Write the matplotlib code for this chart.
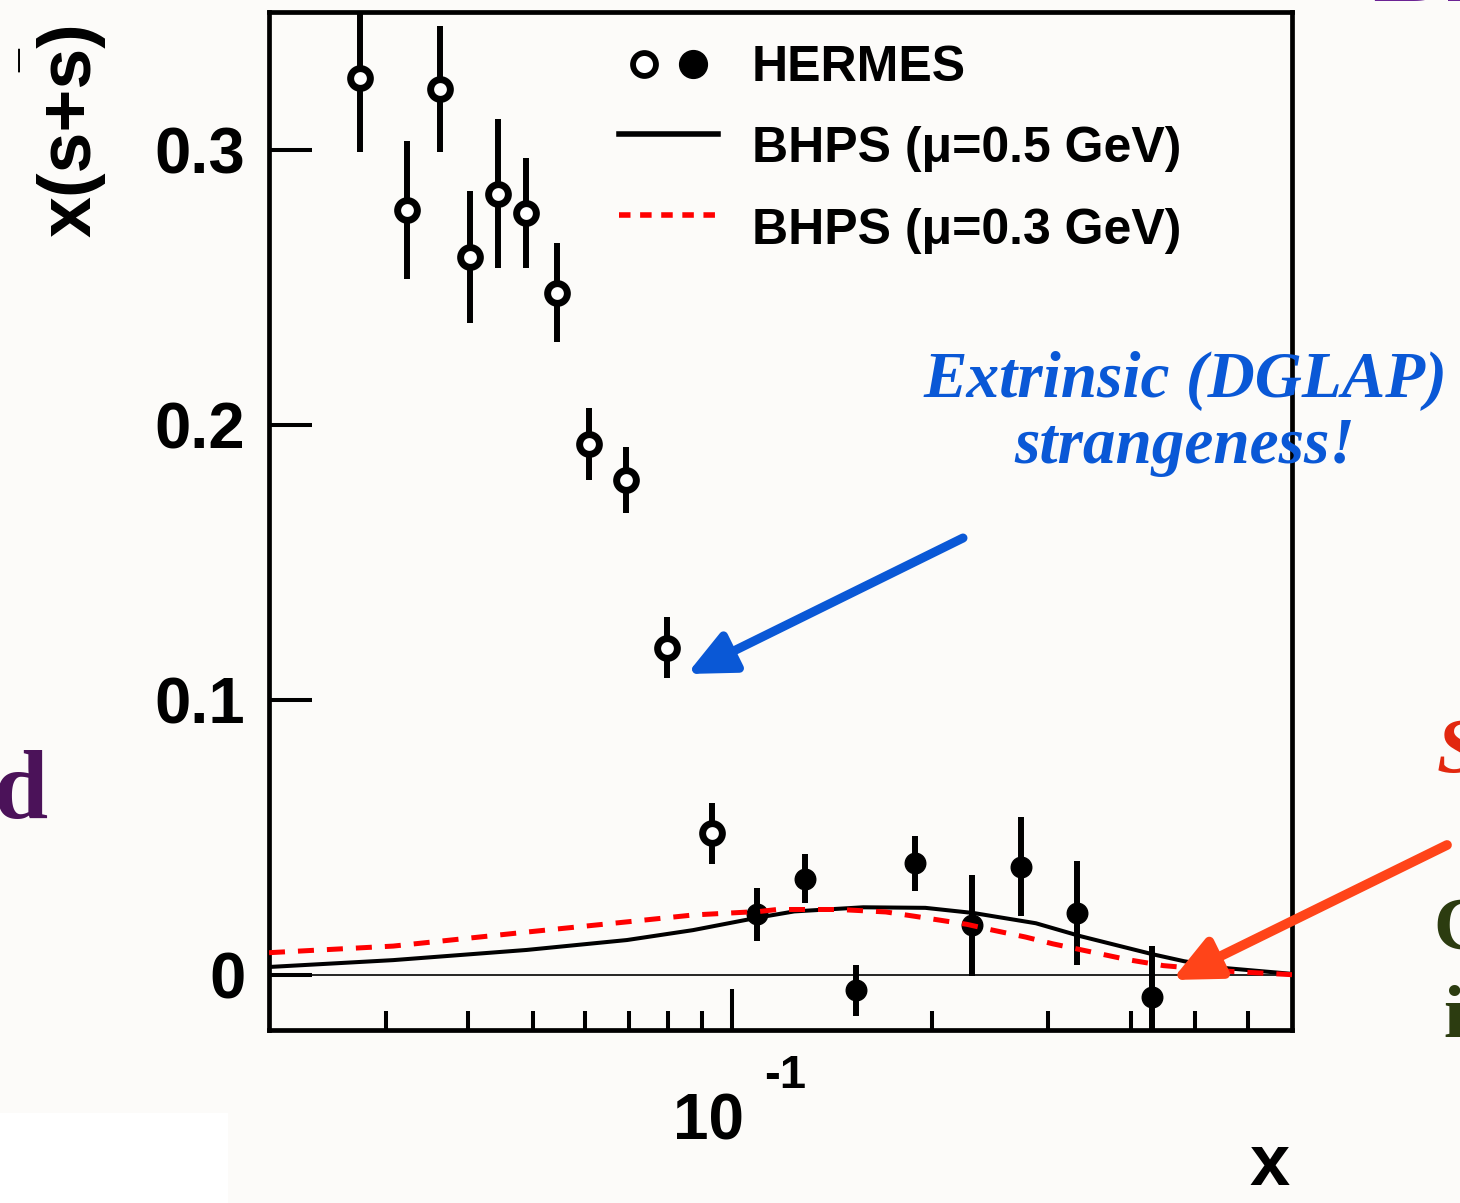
import matplotlib
matplotlib.use("Agg")
import matplotlib.pyplot as plt
from matplotlib import font_manager as fm
from matplotlib.legend_handler import HandlerTuple, HandlerLine2D
from matplotlib.lines import Line2D
from matplotlib.patches import FancyArrowPatch, Rectangle, ArrowStyle
from matplotlib.ticker import NullFormatter, FixedLocator

# ---------------- data ----------------
# HERMES x(s+sbar): open circles (low x) and filled circles (high x)
x_open = [0.0274, 0.0323, 0.0362, 0.0402, 0.0444, 0.0488, 0.0544, 0.0609, 0.0691, 0.0797, 0.0934]
y_open = [0.326, 0.278, 0.322, 0.261, 0.284, 0.277, 0.248, 0.193, 0.180, 0.119, 0.0515]
e_open = [0.027, 0.025, 0.023, 0.024, 0.027, 0.020, 0.018, 0.013, 0.012, 0.011, 0.011]

x_full = [0.109, 0.129, 0.154, 0.189, 0.230, 0.273, 0.332, 0.431]
y_full = [0.0220, 0.0350, -0.0056, 0.0406, 0.0181, 0.0394, 0.0225, -0.0079]
e_full = [0.0097, 0.0089, 0.0092, 0.0100, 0.0183, 0.0180, 0.0188, 0.0183]

# BHPS intrinsic strangeness, mu = 0.5 GeV (solid) and mu = 0.3 GeV (dashed)
x_bhps05 = [0.020, 0.0308, 0.0490, 0.0694, 0.0873, 0.1091, 0.1241, 0.1577, 0.1957,
            0.2317, 0.2874, 0.3356, 0.4318, 0.4810, 0.5556, 0.700]
y_bhps05 = [0.0029, 0.0054, 0.0091, 0.0127, 0.0163, 0.0208, 0.0231, 0.0246, 0.0244,
            0.0225, 0.0188, 0.0141, 0.0075, 0.0050, 0.0025, 0.0004]

x_bhps03 = [0.020, 0.0308, 0.0490, 0.0694, 0.0873, 0.1102, 0.1170, 0.1451, 0.1707,
            0.1890, 0.2262, 0.2474, 0.2771, 0.3051, 0.3418, 0.3948, 0.4477, 0.5654, 0.700]
y_bhps03 = [0.0081, 0.0105, 0.0156, 0.0193, 0.0218, 0.0231, 0.0238, 0.0238, 0.0229,
            0.0213, 0.0184, 0.0163, 0.0138, 0.0113, 0.0088, 0.0056, 0.0034, 0.0013, 0.0001]

ytick_vals = [0, 0.1, 0.2, 0.3]
ytick_labels = ["0", "0.1", "0.2", "0.3"]
xminor_vals = [0.03, 0.04, 0.05, 0.06, 0.07, 0.08, 0.09, 0.2, 0.3, 0.4, 0.5, 0.6]
legend_labels = ["HERMES", "BHPS (\u03bc=0.5 GeV)", "BHPS (\u03bc=0.3 GeV)"]

# ---------------- fonts ----------------
names = {f.name for f in fm.fontManager.ttflist}
SANS = "Liberation Sans"
HAS_NARROW = "Liberation Sans Narrow" in names
NARROW = "Liberation Sans Narrow" if HAS_NARROW else "Liberation Sans"
SERIF = "Liberation Serif"

plt.rcParams["font.family"] = [SANS, "DejaVu Sans"]
plt.rcParams["font.weight"] = "bold"

BG = "#fcfbf9"
W, H = 1460, 1203
fig = plt.figure(figsize=(W / 100, H / 100), dpi=100, facecolor=BG)


def fx(px):
    return px / W


def fy(py):
    return 1 - py / H


class RaisedLineHandler(HandlerLine2D):
    """Line legend handle drawn a little above the label's centre."""

    def __init__(self, raise_pt=0.0, **kw):
        super().__init__(**kw)
        self.raise_pt = raise_pt

    def create_artists(self, legend, orig_handle, xdescent, ydescent, width, height,
                       fontsize, trans):
        arts = super().create_artists(legend, orig_handle, xdescent, ydescent, width,
                                      height, fontsize, trans)
        for a in arts:
            a.set_ydata([y + self.raise_pt for y in a.get_ydata()])
        return arts


ax = fig.add_axes([fx(269), fy(1030), (1292 - 269) / W, (1030 - 12) / H])
ax.set_facecolor(BG)

# zero line
ax.axhline(0, color="black", lw=1.2, zorder=1)

# data points
ax.errorbar(x_open, y_open, yerr=e_open, fmt="o", ms=14.2, mfc="white", mec="black",
            mew=5, ecolor="black", elinewidth=4.3, capsize=0, zorder=3)
ax.errorbar(x_full, y_full, yerr=e_full, fmt="o", ms=14.8, mfc="black", mec="black",
            mew=1, ecolor="black", elinewidth=4.3, capsize=0, zorder=3)

# model curves
ax.plot(x_bhps05, y_bhps05, color="black", lw=2.9, zorder=4)
ax.plot(x_bhps03, y_bhps03, color="#ff0000", lw=3.6, dashes=(3.2, 2.6), zorder=5)

# axes ranges and ticks
ax.set_xscale("log")
ax.set_xlim(0.02, 0.7)
ax.set_ylim(-0.02, 0.35)
ax.xaxis.set_major_locator(FixedLocator([0.1]))
ax.xaxis.set_minor_locator(FixedLocator(xminor_vals))
ax.xaxis.set_major_formatter(NullFormatter())
ax.xaxis.set_minor_formatter(NullFormatter())
ax.set_yticks(ytick_vals)
ax.set_yticklabels(ytick_labels)
ax.tick_params(axis="x", which="major", direction="in", length=29.5, width=2.9,
               top=False, bottom=True)
ax.tick_params(axis="x", which="minor", direction="in", length=13.7, width=2.9,
               top=False, bottom=True)
ax.tick_params(axis="y", which="both", direction="in", length=31, width=2.9,
               right=False, labelsize=47, pad=17)
for lab in ax.get_yticklabels():
    lab.set_fontweight("bold")
for s in ax.spines.values():
    s.set_linewidth(3.4)

# 10^-1 label below the major tick
ax.annotate("10", xy=(0.1, 0), xycoords=("data", "axes fraction"), xytext=(-16.9, -79.2),
            textcoords="offset points", ha="center", va="baseline", fontsize=46,
            fontweight="bold", annotation_clip=False)
ax.annotate("-1", xy=(0.1, 0), xycoords=("data", "axes fraction"), xytext=(38.2, -41.8),
            textcoords="offset points", ha="center", va="baseline", fontsize=34,
            fontweight="bold", annotation_clip=False)

# axis titles
ax.set_xlabel("x", fontsize=52, fontweight="bold", loc="right")
ax.xaxis.set_label_coords(1.0 - 2 / 1023, (1030 - 1132) / 1018)
ylab_size = 61 if HAS_NARROW else 53
ax.set_ylabel("x(s+s)", fontsize=ylab_size, fontweight="bold", family=NARROW, loc="top")
ax.yaxis.set_label_coords((106 - 269) / 1023, (1030 - 22) / 1018)
fig.text(fx(40), fy(61), "\u00af", rotation=90, rotation_mode="anchor", ha="center",
         va="center", fontsize=30, fontweight="bold", family=SANS)

# legend
leg_size = 42 if HAS_NARROW else 36
leg_px = leg_size * 100 / 72
h_open = Line2D([], [], ls="none", marker="o", ms=16.5, mfc="white", mec="black", mew=4.2)
h_full = Line2D([], [], ls="none", marker="o", ms=20, mfc="black", mec="black", mew=1)
h_solid = Line2D([], [], color="black", lw=4)
h_dash = Line2D([], [], color="#ff0000", lw=4, dashes=(2.07, 1.73))
raised = RaisedLineHandler(raise_pt=8)
ax.legend([(h_open, h_full), h_solid, h_dash], legend_labels,
          handler_map={tuple: HandlerTuple(ndivide=None, pad=0), h_solid: raised,
                       h_dash: raised},
          loc="upper left", bbox_to_anchor=(fx(619), fy(45)), bbox_transform=fig.transFigure,
          frameon=False, prop={"family": NARROW, "weight": "bold", "size": leg_size},
          handlelength=99 / leg_px, handletextpad=34 / leg_px,
          labelspacing=(82.5 - 0.94 * leg_px) / leg_px, borderpad=0, borderaxespad=0)

# annotation text and arrows
BLUE = "#0a58d6"
fig.text(fx(1185), fy(397), "Extrinsic (DGLAP)", ha="center", va="baseline", color=BLUE,
         fontsize=47, family=SERIF, fontweight="bold", style="italic")
fig.text(fx(1185), fy(463), "strangeness!", ha="center", va="baseline", color=BLUE,
         fontsize=47, family=SERIF, fontweight="bold", style="italic")

head = ArrowStyle("-|>", head_length=2.8, head_width=1.3)
fig.add_artist(FancyArrowPatch((fx(963), fy(538)), (fx(687), fy(674)), transform=fig.transFigure,
                               arrowstyle=head, mutation_scale=10, lw=6.5, color=BLUE,
                               shrinkA=0, shrinkB=0, zorder=10))
fig.add_artist(FancyArrowPatch((fx(1447), fy(845)), (fx(1172), fy(980)), transform=fig.transFigure,
                               arrowstyle=head, mutation_scale=10, lw=7, color="#ff4419",
                               shrinkA=0, shrinkB=0, zorder=10))

# side text fragments
fig.text(fx(48), fy(818), "d", ha="right", va="baseline", color="#4b1259", fontsize=70,
         family=SERIF, fontweight="bold")
fig.text(fx(1372), fy(1), "BH", ha="left", va="baseline", color="#6b2394", fontsize=80,
         family=SERIF, fontweight="bold")
fig.text(fx(1437), fy(772), "S", ha="left", va="baseline", color="#e2280f", fontsize=56,
         family=SERIF, fontweight="bold", style="italic")
fig.text(fx(1433), fy(950), "C", ha="left", va="baseline", color="#2c3c10", fontsize=54,
         family=SERIF, fontweight="bold")
fig.text(fx(1443), fy(1037), "i", ha="left", va="baseline", color="#2c3c10", fontsize=54,
         family=SERIF, fontweight="bold")

# lighter patch in the lower left corner
fig.add_artist(Rectangle((0, 0), fx(228), fy(1113), transform=fig.transFigure,
                         facecolor="white", edgecolor="none", zorder=-5))

fig.savefig("out.png", dpi=100, facecolor=fig.get_facecolor())
